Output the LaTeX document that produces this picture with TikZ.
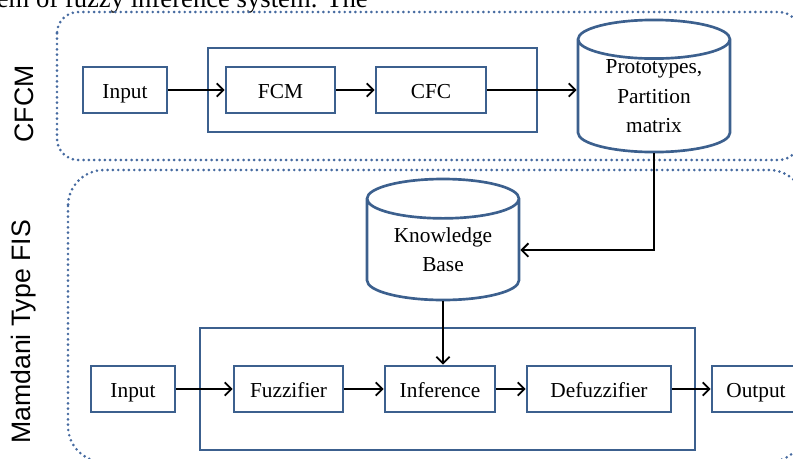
\documentclass[tikz,border=0pt]{standalone}
\usepackage{fontspec}
\setmainfont{Liberation Serif}
\setsansfont{Liberation Sans}
\usetikzlibrary{shapes,arrows.meta}
\definecolor{boxblue}{RGB}{60,96,142}
\definecolor{dotblue}{RGB}{70,106,160}
\tikzset{
  blockbox/.style={shape=rectangle,draw=boxblue,line width=2pt,align=center,minimum height=34.5pt,inner sep=0pt,text height=12.4pt,text depth=0pt,font=\fontsize{16}{22}\selectfont},
  holdbox/.style={shape=rectangle,draw=boxblue,line width=2pt,inner sep=0pt},
  storebox/.style={shape=cylinder,shape border rotate=90,aspect=0.4,anchor=shape center,draw=boxblue,line width=2pt,align=center,inner sep=0pt,font=\fontsize{16}{22}\selectfont},
  groupline/.style={draw=dotblue,line width=2.2pt,dash pattern=on 0pt off 4pt,line cap=round},
  grouplabel/.style={rotate=90,font=\sffamily\fontsize{20}{24}\selectfont},
  flow/.style={->,draw=black,line width=1.4pt}
}
\begin{document}
\begin{tikzpicture}[x=0.75pt,y=-0.75pt,>={Straight Barb[length=5pt,width=10pt]}]
\useasboundingbox (0,0) rectangle (793,458);
\clip (0,0) rectangle (793,458);

% paper text cut at the top
\node[anchor=base east,inner sep=0pt,font=\fontsize{20}{24}\selectfont] (txt) at (368,7) {tem of fuzzy inference system. The};

% dotted groups
\draw[groupline,rounded corners=16pt] (57,12) rectangle (800,160);
\draw[groupline,rounded corners=27pt] (68,170) rectangle (805,462);
\node[grouplabel] (cfcmlbl) at (24,104) {CFCM};
\node[grouplabel] (fislbl) at (24,332) {Mamdani Type FIS};

% CFCM part
\node[holdbox,minimum width=246.75pt,minimum height=63pt] (cfcbox) at (372.5,90) {};
\node[blockbox,minimum width=63pt] (inA) at (125,90) {Input};
\node[blockbox,minimum width=81.75pt] (fcm) at (280.5,90) {FCM};
\node[blockbox,minimum width=82.5pt] (cfc) at (431,90) {CFC};
\node[storebox,minimum width=114pt,minimum height=99pt] (proto) at (654,86) {Prototypes,\\Partition\\matrix};

% Mamdani part
\node[storebox,minimum width=114pt,minimum height=90.75pt] (know) at (443,239.5) {Knowledge\\Base};
\node[holdbox,minimum width=371.25pt,minimum height=91.5pt] (fisbox) at (447.5,389) {};
\node[blockbox,minimum width=63pt] (inB) at (133,389) {Input};
\node[blockbox,minimum width=81.75pt] (fuzz) at (288.5,389) {Fuzzifier};
\node[blockbox,minimum width=82.5pt] (infer) at (440,389) {Inference};
\node[blockbox,minimum width=108pt] (defuzz) at (599,389) {Defuzzifier};
\node[blockbox,minimum width=66pt] (out) at (756,389) {Output};

\path [flow] (inA) edge (fcm);
\path [flow] (fcm) edge (cfc);
\draw [flow] (cfc.east) -- (cfc.east -| proto.west);
\draw [flow] (proto.south) |- (know.east);
\draw [flow] (know.south) -- (know.south |- infer.north);
\path [flow] (inB) edge (fuzz);
\path [flow] (fuzz) edge (infer);
\path [flow] (infer) edge (defuzz);
\path [flow] (defuzz) edge (out);
\end{tikzpicture}
\end{document}
